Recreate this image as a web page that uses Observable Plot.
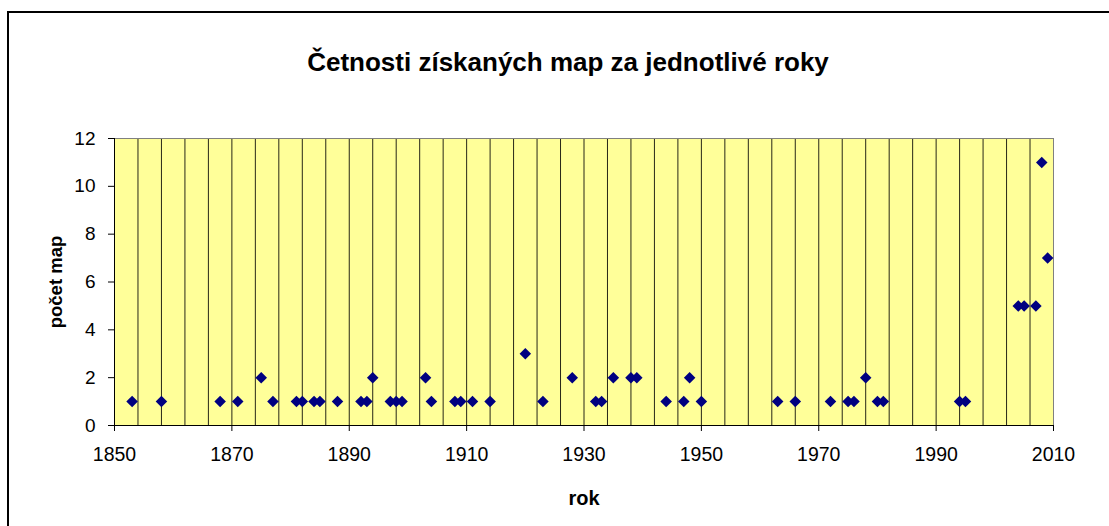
<!DOCTYPE html>
<html>
<head>
<meta charset="utf-8">
<script src="https://cdn.jsdelivr.net/npm/d3@7"></script>
<script src="https://cdn.jsdelivr.net/npm/@observablehq/plot@0.6"></script>
<style>
  html, body { margin: 0; padding: 0; background: #fff; }
  #wrap { position: relative; width: 1109px; height: 526px; overflow: hidden; }
  #border { position: absolute; left: 7px; top: 11px; width: 1200px; height: 600px; border: 2px solid #000; }
  #chart { position: absolute; left: 0; top: 0; }
</style>
</head>
<body>
<div id="wrap"><div id="border"></div><div id="chart"></div></div>
<script>
const years  = [1853,1858,1868,1871,1875,1877,1881,1882,1884,1885,1888,1892,1893,1894,1897,1898,1899,1903,1904,1908,1909,1911,1914,1920,1923,1928,1932,1933,1935,1938,1939,1944,1947,1948,1950,1963,1966,1972,1975,1976,1978,1980,1981,1994,1995,2004,2005,2007,2008,2009];
const counts = [1,1,1,1,2,1,1,1,1,1,1,1,1,2,1,1,1,2,1,1,1,1,1,3,1,2,1,1,2,2,2,1,1,2,1,1,1,1,1,1,2,1,1,1,1,5,5,5,11,7];
const xTicks = [1850,1870,1890,1910,1930,1950,1970,1990,2010];
const yTicks = [0,2,4,6,8,10,12];
const gridYears = d3.range(1854, 2010, 4);
const title = "Četnosti získaných map za jednotlivé roky";
const xLabel = "rok";
const yLabel = "počet map";

const data = years.map((y, i) => ({year: y, count: counts[i]}));

const chart = Plot.plot({
  width: 1109,
  height: 526,
  marginLeft: 114,
  marginRight: 56,
  marginTop: 138,
  marginBottom: 101,
  style: {fontFamily: "'Liberation Sans', Arial, sans-serif", fontSize: "19px", color: "#000", background: "transparent", overflow: "visible"},
  x: {domain: [1850, 2010], label: null},
  y: {domain: [0, 12], label: null},
  marks: [
    Plot.frame({fill: "#FFFF99", stroke: "none"}),
    Plot.ruleX(gridYears, {stroke: "#000", strokeWidth: 1, strokeOpacity: 0.85}),
    Plot.frame({stroke: "#808080", strokeWidth: 1}),
    Plot.axisX({ticks: xTicks, tickFormat: d => String(d), tickSize: 6, tickPadding: 16, fontSize: 19.5, label: null}),
    Plot.axisY({ticks: yTicks, tickSize: 6, tickPadding: 13, fontSize: 19, label: null}),
    Plot.ruleY([0], {stroke: "#000"}),
    Plot.ruleX([1850], {stroke: "#000"}),
    Plot.dot(data, {x: "year", y: "count", symbol: "diamond2", r: 5.2, fill: "#000080", stroke: "none"}),
    Plot.text([title], {frameAnchor: "top", lineAnchor: "middle", textAnchor: "middle", dx: -16, dy: -76, fontSize: 26, fontWeight: "bold", fill: "#000"}),
    Plot.text([xLabel], {frameAnchor: "bottom", lineAnchor: "middle", textAnchor: "middle", dy: 73, fontSize: 20, fontWeight: "bold", fill: "#000"}),
    Plot.text([yLabel], {frameAnchor: "left", lineAnchor: "middle", textAnchor: "middle", dx: -58, rotate: -90, fontSize: 18.5, fontWeight: "bold", fill: "#000"})
  ]
});
document.getElementById("chart").appendChild(chart);
</script>
</body>
</html>
